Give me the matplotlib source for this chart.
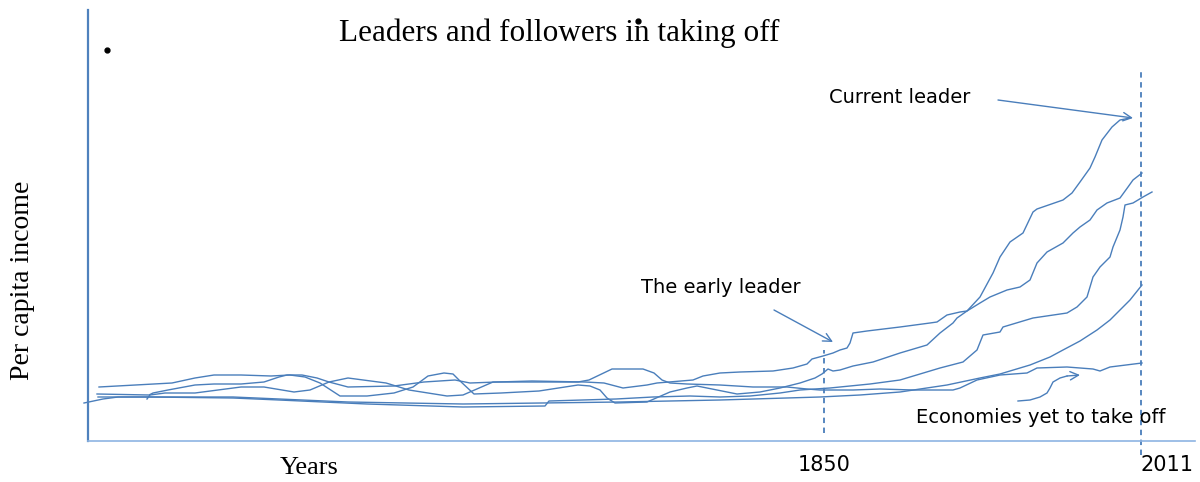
#!/usr/bin/env python3
"""
Schematic chart: leaders and followers in taking off.

Hand-drawn style curves of per capita income over time. The x axis is a
plain time index (0 at the y axis); the two marked years sit on it.
"""

import matplotlib
matplotlib.use("Agg")
import matplotlib.pyplot as plt


# ---------------------------------------------------------------------------
# Data (time index, income index)
# ---------------------------------------------------------------------------

current_t = [11, 84, 107, 126, 153, 183, 202, 217, 232, 252, 279, 306, 325,
             340, 356, 365, 371, 386, 413, 451, 490, 502, 512, 519, 527, 559,
             582, 599, 609, 629, 649, 672, 692, 712, 727, 734, 740, 745, 752,
             765, 785, 812, 839, 852, 865, 869, 879, 892, 905, 912, 922, 935,
             945, 949, 975, 984, 992, 1002, 1007, 1014, 1024, 1032, 1042]
current_v = [54, 58, 63, 66, 66, 65, 66, 64, 58, 45, 45, 48, 54,
             65, 68, 67, 61, 47, 48, 50, 56, 55, 51, 43, 38, 39,
             49, 53, 55, 51, 47, 49, 53, 58, 63, 67, 72, 70, 71,
             75, 79, 88, 96, 108, 118, 123, 130, 144, 168, 184, 199, 208,
             229, 232, 241, 248, 259, 273, 284, 301, 314, 321, 323]

early_t = [9, 61, 65, 80, 107, 126, 153, 176, 191, 199, 214, 229, 241, 260,
           306, 336, 367, 382, 409, 444, 497, 516, 535, 559, 569, 605, 615,
           632, 652, 685, 705, 719, 724, 735, 745, 752, 759, 762, 765, 779,
           812, 842, 849, 859, 872, 879, 892, 902, 919, 932, 942, 949, 959,
           975, 985, 992, 1002, 1009, 1019, 1032, 1040, 1045, 1054]
early_v = [47, 46, 48, 51, 56, 57, 57, 59, 64, 66, 66, 63, 59, 54,
           55, 59, 61, 58, 59, 60, 59, 58, 53, 56, 58, 61, 65,
           68, 69, 70, 73, 77, 82, 85, 88, 91, 93, 98, 108, 110,
           114, 118, 119, 126, 129, 130, 138, 144, 151, 154, 161, 178, 189,
           198, 208, 214, 221, 231, 238, 243, 254, 261, 268]

third_t = [10, 62, 145, 191, 279, 375, 457, 461, 528, 565, 602, 632, 662,
           692, 712, 742, 782, 812, 852, 875, 889, 895, 912, 915, 945, 979,
           989, 999, 1005, 1012, 1022, 1025, 1032, 1035, 1037, 1045, 1055,
           1064]
third_v = [44, 44, 43, 41, 37, 34, 35, 40, 42, 44, 45, 44, 45,
           48, 51, 53, 57, 61, 73, 79, 91, 106, 109, 114, 123, 128,
           134, 144, 164, 174, 184, 194, 211, 224, 236, 238, 244,
           249]

smooth_t = [-4, 15, 30, 145, 191, 260, 375, 532, 632, 732, 772, 812, 859,
            892, 912, 942, 962, 975, 992, 1009, 1022, 1032, 1042, 1054]
smooth_v = [38, 42, 44, 44, 42, 39, 37, 39, 41, 44, 46, 49, 56,
            63, 67, 76, 84, 91, 100, 111, 121, 131, 141, 156]

yet_t = [59, 62, 77, 107, 153, 176, 206, 222, 241, 260, 298, 321, 359, 375,
         405, 451, 490, 501, 524, 555, 566, 574, 582, 599, 632, 665, 699,
         719, 732, 765, 792, 825, 865, 872, 889, 912, 939, 949, 979, 1005,
         1012, 1022, 1054]
yet_v = [42, 46, 48, 48, 54, 54, 49, 51, 59, 63, 58, 51, 45, 46,
         59, 59, 59, 61, 72, 72, 68, 61, 58, 57, 56, 54, 54,
         52, 51, 51, 52, 51, 51, 53, 61, 66, 68, 73, 74, 72,
         70, 74, 78]

# curved pointer drawn beside "Economies yet to take off"
pointer_t = [930, 942, 952, 959, 962, 965, 972, 979, 992]
pointer_v = [40, 41, 44, 48, 53, 59, 63, 65, 66]

# straight pointers: (tail, head)
early_arrow = [(686, 131), (745, 99)]
current_arrow = [(910, 341), (1045, 323)]

# marked years on the time axis
year_pos = [736, 1053]
year_labels = ["1850", "2011"]
year_line_lo = [8, -14]
year_line_hi = [91, 373]


# ---------------------------------------------------------------------------
# Plotting
# ---------------------------------------------------------------------------

BLUE = "#4a7ebb"
SPINE_BLUE = "#4f81bd"
AXIS_LIGHT = "#8eb4e3"
SANS = ["DejaVu Sans"]
SERIF = ["Liberation Serif", "DejaVu Serif"]


def main():
    fig = plt.figure(figsize=(12, 4.82), dpi=100)
    fig.patch.set_facecolor("white")
    ax = fig.add_axes([88 / 1200, 41 / 482, 1107 / 1200, 431 / 482])
    ax.set_xlim(0, 1107)
    ax.set_ylim(0, 431)

    for t, v in [(current_t, current_v), (early_t, early_v),
                 (third_t, third_v), (smooth_t, smooth_v), (yet_t, yet_v)]:
        ax.plot(t, v, color=BLUE, linewidth=1.0, clip_on=False,
                solid_joinstyle="round")

    # dashed year markers
    for x, lo, hi in zip(year_pos, year_line_lo, year_line_hi):
        ax.plot([x, x], [lo, hi], color=BLUE, linewidth=1.3,
                linestyle=(0, (3, 2.5)), clip_on=False)

    # pointers
    arrow_kw = dict(arrowstyle="->,head_length=0.6,head_width=0.3",
                    color=BLUE, linewidth=1.0, shrinkA=0, shrinkB=0)
    for (tail, head) in [early_arrow, current_arrow]:
        ax.annotate("", xy=head, xytext=tail, arrowprops=arrow_kw)
    ax.plot(pointer_t[:-1], pointer_v[:-1], color=BLUE, linewidth=1.0)
    ax.annotate("", xy=(pointer_t[-1], pointer_v[-1]),
                xytext=(pointer_t[-2], pointer_v[-2]), arrowprops=arrow_kw)

    # axes look
    ax.spines["top"].set_visible(False)
    ax.spines["right"].set_visible(False)
    ax.spines["left"].set_color(SPINE_BLUE)
    ax.spines["left"].set_linewidth(1.6)
    ax.spines["bottom"].set_color(AXIS_LIGHT)
    ax.spines["bottom"].set_linewidth(1.2)
    ax.set_yticks([])
    ax.set_xticks(year_pos)
    ax.set_xticklabels(year_labels, fontsize=15, family=SANS)
    ax.tick_params(axis="x", length=0, pad=10)
    labels = ax.get_xticklabels()
    labels[0].set_horizontalalignment("center")
    labels[1].set_horizontalalignment("left")

    # texts
    fig.text(0.466, 0.9315, "Leaders and followers in taking off",
             ha="center", va="center", fontsize=22.5, family=SERIF)
    fig.text(0.2575, 0.029, "Years", ha="center", va="center",
             fontsize=19, family=SERIF)
    fig.text(0.019, 0.419, "Per capita income", ha="center", va="center",
             rotation=90, fontsize=20, family=SERIF)
    fig.text(0.75, 0.797, "Current leader", ha="center", va="center",
             fontsize=14, family=SANS)
    fig.text(0.601, 0.4025, "The early leader", ha="center", va="center",
             fontsize=14, family=SANS)
    fig.text(0.8675, 0.1328, "Economies yet to take off", ha="center",
             va="center", fontsize=14, family=SANS)

    # stray bullet marks of the original slide (decoration, not data)
    for fx, fy in [(107 / 1200, 1 - 50 / 482), (638 / 1200, 1 - 21 / 482)]:
        fig.add_artist(plt.Line2D([fx], [fy], marker="o", markersize=3.5,
                                  color="black", transform=fig.transFigure))

    fig.savefig("out.png", dpi=100, facecolor="white")
    plt.close(fig)


if __name__ == "__main__":
    main()
